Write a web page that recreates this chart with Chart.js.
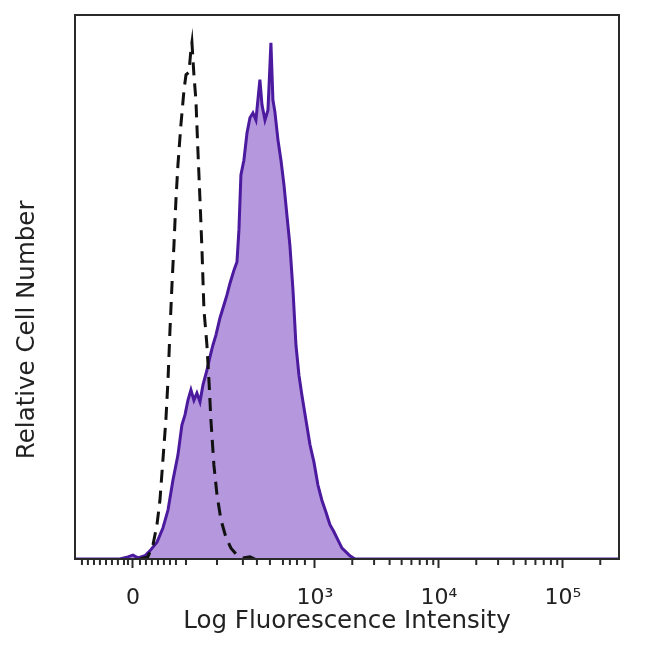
<!DOCTYPE html>
<html>
<head>
<meta charset="utf-8">
<script src="https://cdn.jsdelivr.net/npm/chart.js@4.4.0/dist/chart.umd.min.js"></script>
<style>
  html, body { margin: 0; padding: 0; background: #fff; }
  #wrap { width: 650px; height: 650px; }
</style>
</head>
<body>
<div id="wrap"><canvas id="chart" width="650" height="650"></canvas></div>
<script>
// x is in display decades (biexponential axis: 10^3 -> 3, 10^4 -> 4 ...)
const stainedX = [1.065, 1.427, 1.492, 1.532, 1.573, 1.629, 1.669, 1.726, 1.774, 1.815, 1.855, 1.895,
  1.927, 1.952, 1.976, 2.000, 2.024, 2.048, 2.073, 2.097, 2.129, 2.153, 2.177, 2.202, 2.234, 2.266,
  2.290, 2.315, 2.347, 2.371, 2.387, 2.403, 2.427, 2.452, 2.476, 2.500, 2.524, 2.540, 2.556, 2.573,
  2.597, 2.621, 2.645, 2.661, 2.677, 2.702, 2.726, 2.750, 2.774, 2.798, 2.823, 2.847, 2.871, 2.895,
  2.927, 2.960, 2.992, 3.024, 3.056, 3.089, 3.121, 3.153, 3.185, 3.218, 3.250, 3.282, 3.323, 5.452]
const stainedY = [0, 0, 0.4, 0.7, 0.2, 0.6, 1.5, 3.1, 5.7, 9.0, 14.5, 19.1,
  24.6, 26.5, 29.2, 31.1, 29.2, 30.5, 28.9, 32.0, 34.7, 37.1, 39.3, 41.2, 44.3, 46.7,
  48.5, 50.7, 53.1, 54.6, 60.5, 70.6, 73.3, 78.3, 81.1, 82.0, 80.7, 84.4, 88.1, 83.5,
  80.7, 82.5, 94.9, 84.4, 82.2, 77.0, 73.3, 68.8, 63.2, 57.7, 49.4, 39.3, 33.8, 30.1,
  25.6, 21.0, 17.8, 13.6, 10.8, 8.6, 6.3, 5.0, 3.5, 2.0, 1.3, 0.6, 0, 0]

const isotypeX = [1.589, 1.653, 1.694, 1.726, 1.750, 1.774, 1.798, 1.815, 1.831, 1.847, 1.863, 1.879,
  1.895, 1.919, 1.944, 1.960, 1.984, 2.000, 2.008, 2.024, 2.040, 2.056, 2.073, 2.089, 2.105, 2.129,
  2.145, 2.161, 2.185, 2.210, 2.242, 2.282, 2.323, 2.371, 2.419, 2.476, 2.516]
const isotypeY = [0, 0.4, 2.6, 6.3, 10.8, 18.2, 25.6, 32.9, 42.1, 50.4, 57.7, 66.0,
  72.4, 79.8, 86.2, 89.0, 89.5, 93.6, 94.9, 89.0, 84.4, 75.2, 66.0, 56.8, 45.8, 39.3,
  32.9, 25.6, 17.3, 11.8, 7.2, 4.0, 2.0, 0.7, 0.2, 0.4, 0]

const majorTicks = [1.532, 3, 4, 5]
const majorLabels = ['0', '10³', '10⁴', '10⁵']
const minorTicks = [1.121, 1.169, 1.218, 1.266, 1.315, 1.363, 1.411, 1.460, 1.492, 1.589, 1.637,
  1.685, 1.734, 1.782, 1.831, 1.879, 1.960, 2.210, 2.419, 2.532, 2.637, 2.742, 2.798, 2.855, 2.919,
  3.301, 3.477, 3.602, 3.699, 3.778, 3.845, 3.903, 3.954,
  4.301, 4.477, 4.602, 4.699, 4.778, 4.845, 4.903, 4.954, 5.301]

const toPoints = (xs, ys) => xs.map((x, i) => ({ x: x, y: ys[i] }))

const frame = {
  id: 'frame',
  afterDraw(chart) {
    const { ctx, chartArea: a, scales } = chart
    ctx.save()
    ctx.strokeStyle = '#2a2a2a'
    ctx.lineWidth = 2
    ctx.strokeRect(a.left, a.top, a.right - a.left, a.bottom - a.top)
    ctx.beginPath()
    minorTicks.forEach(v => {
      const px = scales.x.getPixelForValue(v)
      ctx.moveTo(px, a.bottom)
      ctx.lineTo(px, a.bottom + 6)
    })
    ctx.stroke()
    ctx.restore()
  }
}

new Chart(document.getElementById('chart'), {
  type: 'line',
  data: {
    datasets: [
      {
        data: toPoints(isotypeX, isotypeY),
        borderColor: '#111',
        borderWidth: 3,
        borderDash: [13, 8],
        pointRadius: 0,
        fill: false,
        tension: 0
      },
      {
        data: toPoints(stainedX, stainedY),
        borderColor: '#4b1a9e',
        backgroundColor: '#b497dc',
        borderWidth: 3,
        pointRadius: 0,
        fill: 'origin',
        tension: 0
      }
    ]
  },
  options: {
    responsive: false,
    animation: false,
    layout: { padding: { left: 0, right: 31, top: 15, bottom: 0 } },
    plugins: { legend: { display: false }, tooltip: { enabled: false } },
    scales: {
      x: {
        type: 'linear',
        min: 1.065,
        max: 5.452,
        afterBuildTicks: scale => { scale.ticks = majorTicks.map(v => ({ value: v })) },
        afterFit: scale => { scale.height = 91 },
        grid: { display: true, drawOnChartArea: false, drawTicks: true, tickLength: 9, tickWidth: 2, tickColor: '#2a2a2a' },
        border: { display: true, color: '#2a2a2a', width: 2 },
        ticks: {
          autoSkip: false,
          maxRotation: 0,
          padding: 17,
          color: '#222',
          font: { family: 'DejaVu Sans', size: 22 },
          callback: v => majorLabels[majorTicks.indexOf(v)]
        },
        title: {
          display: true,
          text: 'Log Fluorescence Intensity',
          color: '#222',
          font: { family: 'DejaVu Sans', size: 24.5 },
          padding: { top: 0, bottom: 14 }
        }
      },
      y: {
        min: 0,
        max: 100,
        afterFit: scale => { scale.width = 75 },
        grid: { display: false },
        border: { display: true, color: '#2a2a2a', width: 2 },
        ticks: { display: false },
        title: {
          display: true,
          text: 'Relative Cell Number           ',
          color: '#222',
          font: { family: 'DejaVu Sans', size: 24.5 },
          padding: { top: 13, bottom: 0 }
        }
      }
    }
  },
  plugins: [frame]
})
</script>
</body>
</html>
